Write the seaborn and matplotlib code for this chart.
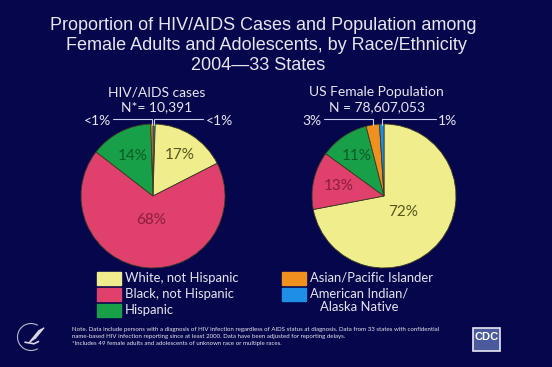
import numpy as np
import seaborn as sns
import matplotlib.pyplot as plt
from matplotlib.patches import Rectangle, Arc

groups = ["White, not Hispanic", "Black, not Hispanic", "Hispanic",
          "Asian/Pacific Islander", "American Indian/\nAlaska Native"]
cases_pct = [17, 68, 14, 0.5, 0.5]
cases_lbl = ["17%", "68%", "14%", "<1%", "<1%"]
pop_pct = [72, 13, 11, 3, 1]
pop_lbl = ["72%", "13%", "11%", "3%", "1%"]

colors = ["#f0ee8c", "#e0406c", "#18a048", "#f0901e", "#1e8ee6"]
dark = ["#55551e", "#8a1e3c", "#0e5a28", "#000000", "#000000"]
bg = "#06064c"
fg = "#e6e6ee"

sns.set_theme(style="white", rc={"figure.facecolor": bg, "axes.facecolor": bg})
plt.rcParams["font.family"] = ["Liberation Sans", "DejaVu Sans"]
geo = ["Lato", "DejaVu Sans"]

W, H = 552, 367
fig = plt.figure(figsize=(W / 100, H / 100), dpi=100)


def px(x, y):
    return x / W, 1 - y / H


t = ["Proportion of HIV/AIDS Cases and Population among",
     "Female Adults and Adolescents, by Race/Ethnicity",
     "2004\u201433 States"]
for line, xc, yc in zip(t, [263, 266, 258], [25, 45, 65]):
    fig.text(*px(xc, yc), line, ha="center", va="center", color=fg,
             fontsize=13)


def draw_pie(cx, cy, vals, lbls, order, inner_r, ends, tx, title, ntext):
    R = 72
    ax = fig.add_axes([(cx - R) / W, 1 - (cy + R) / H, 2 * R / W, 2 * R / H])
    v = [vals[i] for i in order]
    c = sns.color_palette([colors[i] for i in order])
    wedges, _ = ax.pie(v, colors=c, startangle=90, counterclock=False,
                       wedgeprops=dict(edgecolor="#3c3c22", linewidth=0.6))
    ax.set_xlim(-1, 1)
    ax.set_ylim(-1, 1)
    k = 0
    for w, i in zip(wedges, order):
        mid = np.deg2rad((w.theta1 + w.theta2) / 2)
        if vals[i] >= 5:
            r = inner_r[k]
            k += 1
            ax.text(r * np.cos(mid), r * np.sin(mid), lbls[i], ha="center",
                    va="center", color=dark[i], fontsize=11, family=geo)
        else:
            # Asian/PI label sits on the left, AI/AN on the right
            side = -1 if i == 3 else 1
            x0 = np.cos(mid)
            xe = ends[0] if side < 0 else ends[1]
            ax.plot([x0, x0, xe], [0.99, 1.075, 1.075], color="#c8d0f0",
                    lw=0.8, clip_on=False)
            ax.text(xe + side * 0.03, 1.04, lbls[i],
                    ha="left" if side > 0 else "right", va="center",
                    color=fg, fontsize=10, family=geo, clip_on=False)
    ax.text(tx, 1.44, title, ha="center", va="center", color=fg,
            fontsize=10, family=geo, clip_on=False)
    ax.text(tx, 1.23, ntext, ha="center", va="center", color=fg,
            fontsize=10, family=geo, clip_on=False)


draw_pie(153, 196, cases_pct, cases_lbl, [4, 0, 1, 2, 3], [0.68, 0.33, 0.62],
         (-0.55, 0.70), 0.05, "HIV/AIDS cases", "N*= 10,391")
draw_pie(384, 196, pop_pct, pop_lbl, [0, 1, 2, 3, 4], [0.35, 0.65, 0.68],
         (-0.84, 0.72), -0.1, "US Female Population", "N = 78,607,053")

# legend
for i, g in enumerate(groups):
    col, row = divmod(i, 3)
    x0 = [97, 282][col]
    yc = 278.5 + 16 * row
    fig.patches.append(Rectangle(px(x0, yc + 6.5), 24 / W, 13 / H,
                                 transform=fig.transFigure, color=colors[i]))
    fig.text(*px(x0 + 28, yc - 7), g, ha="left", va="top", color=fg,
             fontsize=9.4, family=geo, multialignment="center",
             linespacing=1.15)

notes = ["Note. Data include persons with a diagnosis of HIV infection regardless of AIDS status at diagnosis. "
         "Data from 33 states with confidential",
         "name-based HIV infection reporting since at least 2000. Data have been adjusted for reporting delays.",
         "*Includes 49 female adults and adolescents of unknown race or multiple races."]
for i, n in enumerate(notes):
    fig.text(*px(72, 329 + 7.5 * i), n, ha="left", va="center", color=fg,
             fontsize=4.45, family=geo)

# logos
fig.patches.append(Rectangle(px(473, 351), 27 / W, 23 / H,
                             transform=fig.transFigure, facecolor="#4a5a9c",
                             edgecolor="#e8e8f4", lw=1.2))
fig.text(*px(486.5, 337), "CDC", ha="center", va="center", color="white",
         fontsize=8, fontweight="bold")
lax = fig.add_axes([16 / W, 1 - 352 / H, 30 / W, 30 / H])
lax.set_xlim(-1, 1)
lax.set_ylim(-1, 1)
lax.axis("off")
lax.add_patch(Arc((0, 0), 1.8, 1.8, theta1=60, theta2=300, color="#b8b8c8", lw=0.8))
for k in range(4):
    lax.plot([-0.1 + 0.12 * k, 0.55 + 0.1 * k], [-0.35 + 0.08 * k, 0.45 + 0.05 * k],
             color="#d8d8e4", lw=1.0)
lax.plot([-0.4, 0.2, 0.5], [-0.35, -0.45, -0.3], color="#d8d8e4", lw=1.2)

fig.savefig("out.png", dpi=100, facecolor=bg)
